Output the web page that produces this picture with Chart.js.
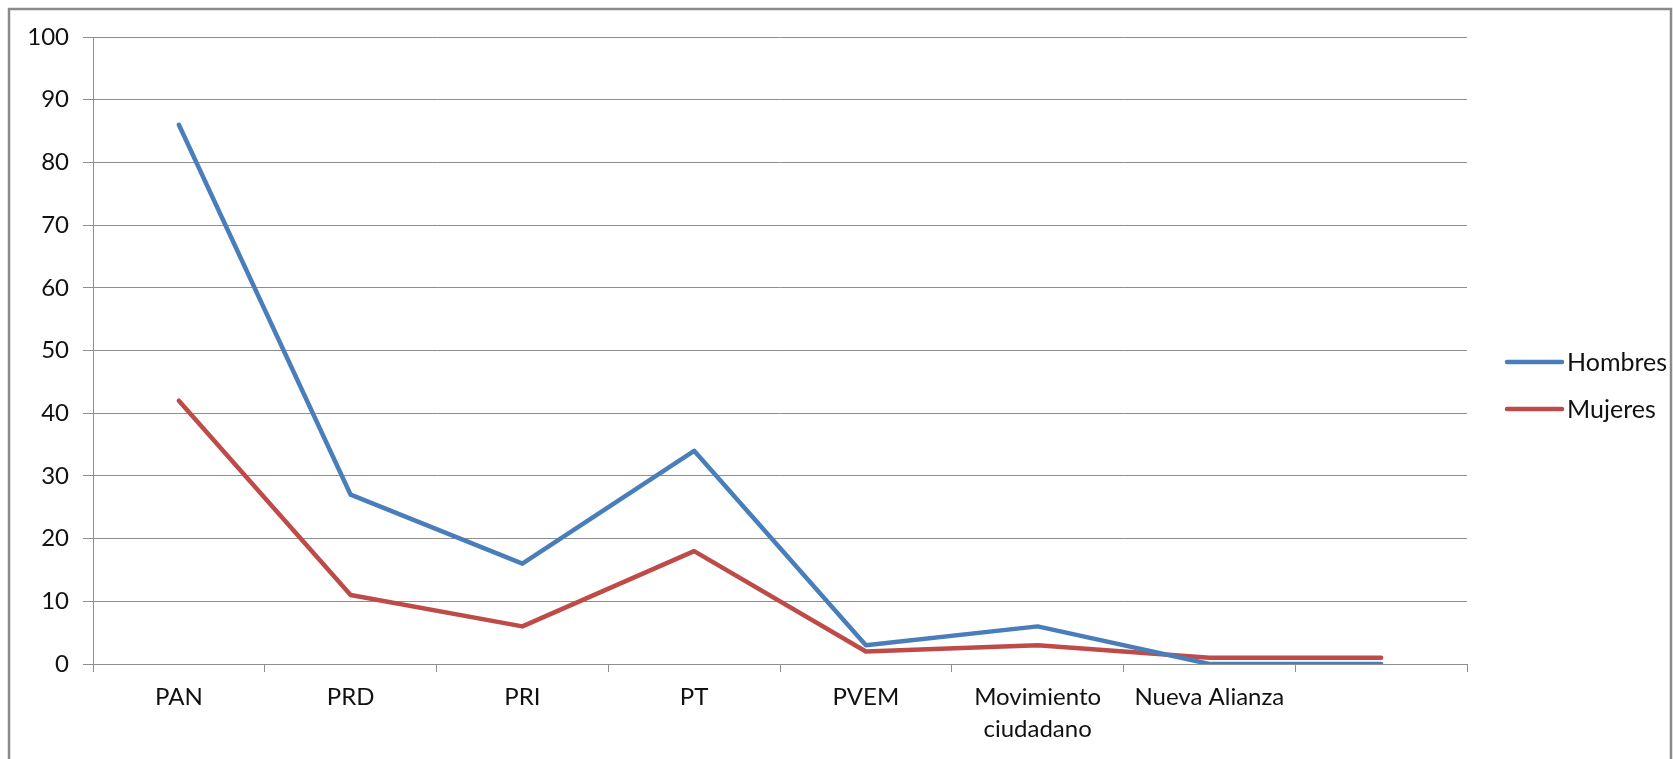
<!DOCTYPE html>
<html>
<head>
<meta charset="utf-8">
<script src="https://cdn.jsdelivr.net/npm/chart.js@4/dist/chart.umd.min.js"></script>
<style>
html,body{margin:0;padding:0;background:#fff;}
#wrap{position:absolute;left:0;top:0;width:1673px;height:759px;}
</style>
</head>
<body>
<div id="wrap"><canvas id="c" width="1673" height="759"></canvas></div>
<script>
const categories = ['PAN', 'PRD', 'PRI', 'PT', 'PVEM', ['Movimiento', 'ciudadano'], 'Nueva Alianza', ''];
const hombres = [86, 27, 16, 34, 3, 6, 0, 0];
const mujeres = [42, 11, 6, 18, 2, 3, 1, 1];
const seriesNames = ['Hombres', 'Mujeres'];
const yTicks = { min: 0, max: 100, step: 10 };

const FONT = 'Lato, "Liberation Sans", sans-serif';
const GRID = '#8e8e8e';

const framePlugin = {
  id: 'frame',
  beforeDraw(chart) {
    const ctx = chart.ctx;
    ctx.save();
    ctx.fillStyle = '#fff';
    ctx.fillRect(0, 0, chart.width, chart.height);
    ctx.strokeStyle = '#8a8a8a';
    ctx.lineWidth = 2.5;
    ctx.strokeRect(9, 9, 1662, 800);
    ctx.restore();
  }
};

const legendPlugin = {
  id: 'sideLegend',
  afterDraw(chart) {
    const ctx = chart.ctx;
    ctx.save();
    const x0 = chart.chartArea.right + 40;
    const ys = [362, 409];
    chart.data.datasets.forEach((ds, i) => {
      ctx.strokeStyle = ds.borderColor;
      ctx.lineWidth = 4.5;
      ctx.lineCap = 'round';
      ctx.beginPath();
      ctx.moveTo(x0, ys[i]);
      ctx.lineTo(x0 + 55, ys[i]);
      ctx.stroke();
      ctx.fillStyle = '#111';
      ctx.font = '25px ' + FONT;
      ctx.textBaseline = 'middle';
      ctx.textAlign = 'left';
      ctx.fillText(ds.label, x0 + 60, ys[i] + 1);
    });
    ctx.restore();
  }
};

new Chart(document.getElementById('c'), {
  type: 'line',
  data: {
    labels: categories,
    datasets: [
      { label: seriesNames[0], data: hombres, borderColor: '#4a7ebb', backgroundColor: '#4a7ebb', borderWidth: 4.5, borderCapStyle: 'round', borderJoinStyle: 'round', pointRadius: 0, tension: 0 },
      { label: seriesNames[1], data: mujeres, borderColor: '#be4b48', backgroundColor: '#be4b48', borderWidth: 4.5, borderCapStyle: 'round', borderJoinStyle: 'round', pointRadius: 0, tension: 0 }
    ]
  },
  options: {
    responsive: false,
    animation: false,
    devicePixelRatio: 1,
    layout: { padding: { left: 0, top: 37, right: 206, bottom: 0 } },
    plugins: { legend: { display: false }, tooltip: { enabled: false } },
    scales: {
      x: {
        offset: true,
        grid: { offset: true, drawOnChartArea: false, tickLength: 8, color: GRID, lineWidth: 1 },
        border: { display: true, color: GRID, width: 1 },
        ticks: { color: '#111', font: { family: FONT, size: 24, lineHeight: 1.3 }, padding: 10, maxRotation: 0, autoSkip: false },
        afterFit(s) { s.height = 95; }
      },
      y: {
        min: yTicks.min,
        max: yTicks.max,
        grid: { tickLength: 10, color: GRID, lineWidth: 1 },
        border: { display: true, color: GRID, width: 1 },
        ticks: { stepSize: yTicks.step, color: '#111', font: { family: FONT, size: 24 }, padding: 14 },
        afterFit(s) { s.width = 93; }
      }
    }
  },
  plugins: [framePlugin, legendPlugin]
});
</script>
</body>
</html>
